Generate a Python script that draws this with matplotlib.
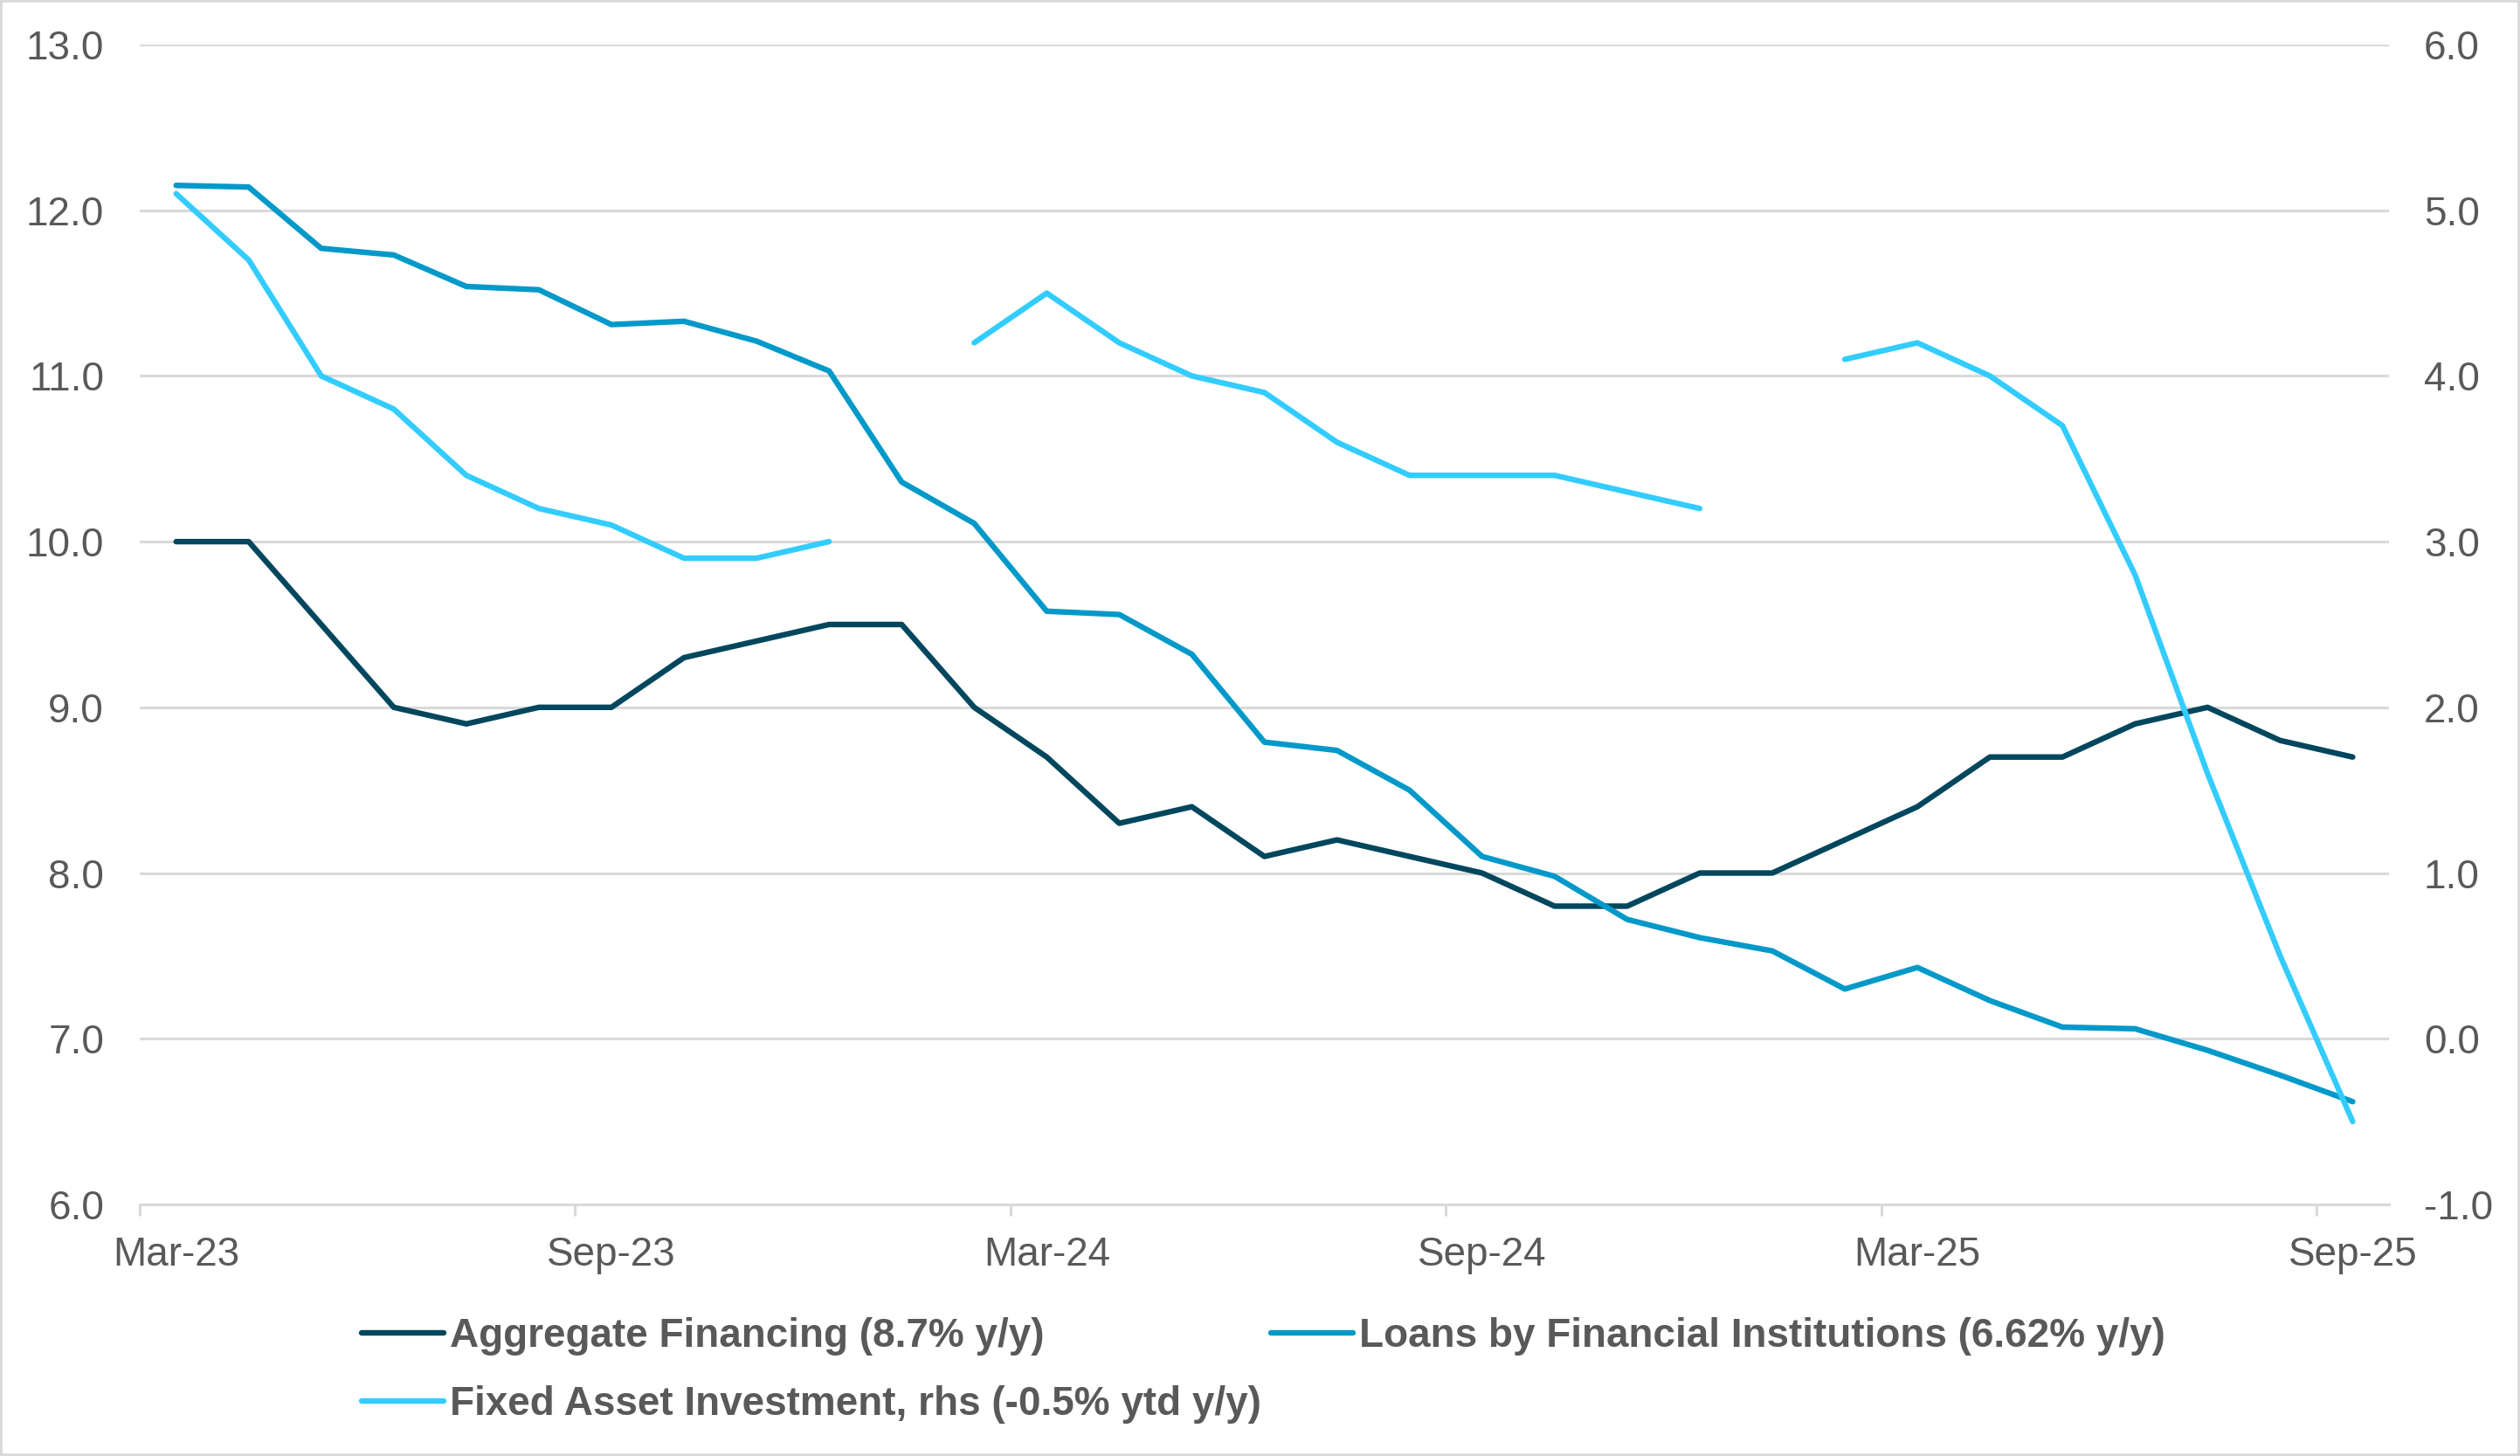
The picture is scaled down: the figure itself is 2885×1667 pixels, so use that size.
import matplotlib
matplotlib.use("Agg")
import matplotlib.pyplot as plt
from matplotlib.patches import Rectangle
import numpy as np
import pandas as pd

plt.rcParams['font.family'] = ['Liberation Sans', 'DejaVu Sans']

# monthly categories, Mar-23 .. Sep-25
months = pd.date_range("2023-03-01", "2025-09-01", freq="MS").strftime("%b-%y").tolist()

agg_fin = [10.0, 10.0, 9.5, 9.0, 8.9, 9.0, 9.0, 9.3, 9.4, 9.5,
           9.5, 9.0, 8.7, 8.3, 8.4, 8.1, 8.2, 8.1, 8.0, 7.8,
           7.8, 8.0, 8.0, 8.2, 8.4, 8.7, 8.7, 8.9, 9.0, 8.8, 8.7]

loans = [12.15, 12.14, 11.77, 11.73, 11.54, 11.52, 11.31, 11.33, 11.21, 11.03,
         10.36, 10.11, 9.58, 9.56, 9.32, 8.79, 8.74, 8.50, 8.10, 7.98,
         7.72, 7.61, 7.53, 7.30, 7.43, 7.23, 7.07, 7.06, 6.93, 6.78, 6.62]

# rhs, no January prints
fai = [5.1, 4.7, 4.0, 3.8, 3.4, 3.2, 3.1, 2.9, 2.9, 3.0,
       np.nan, 4.2, 4.5, 4.2, 4.0, 3.9, 3.6, 3.4, 3.4, 3.4,
       3.3, 3.2, np.nan, 4.1, 4.2, 4.0, 3.7, 2.8, 1.6, 0.5, -0.5]

labels = ["Aggregate Financing (8.7% y/y)",
          "Loans by Financial Institutions (6.62% y/y)",
          "Fixed Asset Investment, rhs (-0.5% ytd y/y)"]
colors = ["#00475E", "#0099C9", "#33CCFF"]

txt = "#595959"
grid = "#D9D9D9"
fs = 16.5
lw = 2.3

x = np.arange(len(months))

fig = plt.figure(figsize=(14.425, 8.335), dpi=200)
ax = fig.add_axes([0.0555, 0.1728, 0.8925, 0.7966])
ax2 = ax.twinx()

l1, = ax.plot(x, agg_fin, color=colors[0], lw=lw, solid_capstyle='round')
l2, = ax.plot(x, loans, color=colors[1], lw=lw, solid_capstyle='round')
l3, = ax2.plot(x, fai, color=colors[2], lw=lw, solid_capstyle='round')

ax.set_xlim(-0.5, len(months) - 0.5)
ax.set_ylim(6, 13)
ax2.set_ylim(-1, 6)
ax.set_yticks(np.arange(6, 13.1, 1))
ax2.set_yticks(np.arange(-1, 6.1, 1))
ax.set_yticklabels([f"{v:.1f}" for v in np.arange(6, 13.1, 1)])
ax2.set_yticklabels([f"{v:.1f}" for v in np.arange(-1, 6.1, 1)])

ax.set_xticks(x[::6])
ax.set_xticklabels(months[::6])
ax.set_xticks(x[::6] - 0.5, minor=True)
ax.tick_params(axis='x', which='major', length=0, pad=13, labelsize=fs, labelcolor=txt)
ax.tick_params(axis='x', which='minor', length=4.7, width=1.1, color=grid, direction='out')
ax.tick_params(axis='y', length=0, pad=14.8, labelsize=fs, labelcolor=txt)
ax2.tick_params(axis='y', length=0, pad=14.4, labelsize=fs, labelcolor=txt)

ax.grid(axis='y', color=grid, lw=1.1)
ax.set_axisbelow(True)
for a in (ax, ax2):
    for s in ('top', 'left', 'right'):
        a.spines[s].set_visible(False)
ax2.spines['bottom'].set_visible(False)
ax.spines['bottom'].set_color(grid)
ax.spines['bottom'].set_linewidth(1.1)

leg = fig.legend([l1, l3, l2], [labels[0], labels[2], labels[1]], ncol=2,
                 loc='upper left', bbox_to_anchor=(0.1435, 0.0956),
                 frameon=False, borderpad=0, borderaxespad=0,
                 handlelength=2.05, handletextpad=0.15, columnspacing=0.24,
                 labelspacing=0.74, prop={'size': fs, 'weight': 'bold'})
for t in leg.get_texts():
    t.set_color(txt)

fig.add_artist(Rectangle((0, 0), 1, 1, transform=fig.transFigure, fill=False,
                         edgecolor=grid, lw=2))

fig.savefig("out.png", dpi=200)
